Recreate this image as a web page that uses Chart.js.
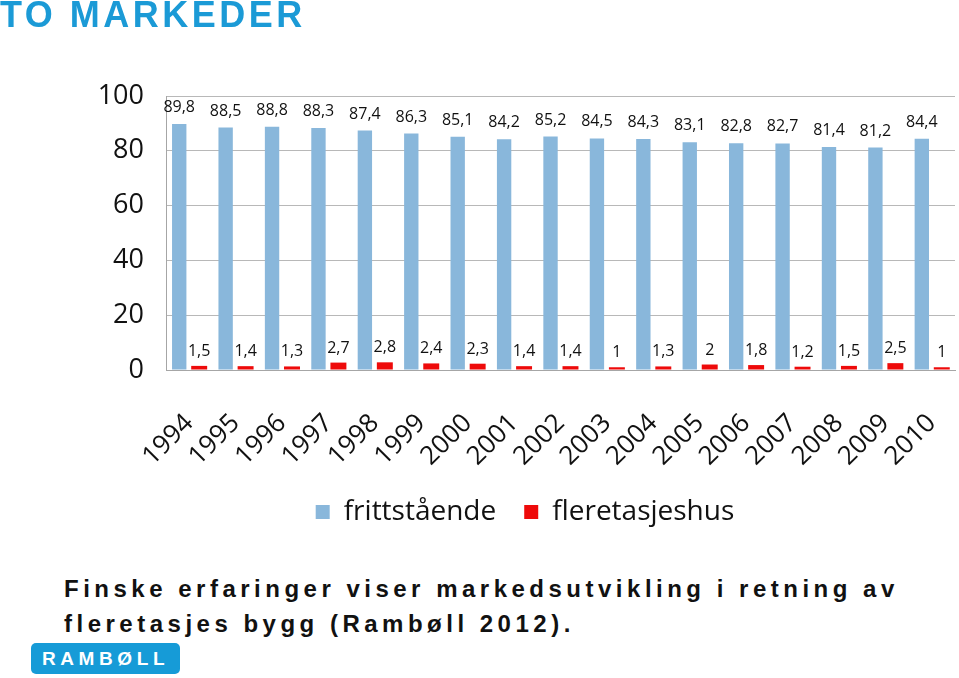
<!DOCTYPE html>
<html>
<head>
<meta charset="utf-8">
<script src="https://cdn.jsdelivr.net/npm/chart.js@4.4.1/dist/chart.umd.min.js"></script>
<style>
  body { margin: 0; background: #fff; width: 959px; height: 678px; overflow: hidden; position: relative; }
  #title { position: absolute; left: 0; top: -3px; font: bold 36px "Liberation Sans", Arial, sans-serif; line-height: 36px; letter-spacing: 3.5px; color: #1b9ad6; z-index: 2; }
  #chartBox { position: absolute; left: 0; top: 0; width: 959px; height: 540px; }
  #caption { position: absolute; left: 64px; top: 571px; font: bold 24px "Liberation Sans", Arial, sans-serif; line-height: 35px; letter-spacing: 4.5px; color: #111; }
  #logo { position: absolute; left: 31px; top: 643px; width: 149px; height: 31px; background: #169bd7; border-radius: 5px; color: #fff; font: bold 19px "Liberation Sans", Arial, sans-serif; letter-spacing: 4.6px; line-height: 31px; text-align: center; }
</style>
</head>
<body>
<div id="title">TO MARKEDER</div>
<div id="chartBox"><canvas id="myChart" width="959" height="540"></canvas></div>
<div id="caption">Finske erfaringer viser markedsutvikling i retning av<br>fleretasjes bygg (Rambøll 2012).</div>
<div id="logo">RAMBØLL</div>
<script>
const years = ["1994", "1995", "1996", "1997", "1998", "1999", "2000", "2001", "2002",
  "2003", "2004", "2005", "2006", "2007", "2008", "2009", "2010"];
const frittstaende = [89.8, 88.5, 88.8, 88.3, 87.4, 86.3, 85.1, 84.2, 85.2,
  84.5, 84.3, 83.1, 82.8, 82.7, 81.4, 81.2, 84.4];
const fleretasjeshus = [1.5, 1.4, 1.3, 2.7, 2.8, 2.4, 2.3, 1.4, 1.4,
  1, 1.3, 2, 1.8, 1.2, 1.5, 2.5, 1];
const yTicks = [0, 20, 40, 60, 80, 100];

const chartFont = "'Open Sans', 'DejaVu Sans', sans-serif";

// writes the value above every bar, with decimal comma
const barLabels = {
  id: "barLabels",
  afterDatasetsDraw(chart) {
    const ctx = chart.ctx;
    ctx.save();
    ctx.font = "16px " + chartFont;
    ctx.fillStyle = "#111";
    ctx.textAlign = "center";
    ctx.textBaseline = "alphabetic";
    chart.data.datasets.forEach((ds, i) => {
      const meta = chart.getDatasetMeta(i);
      meta.data.forEach((bar, j) => {
        const txt = String(ds.data[j]).replace(".", ",");
        ctx.fillText(txt, bar.x, bar.y - (i === 0 ? 12 : 10));
      });
    });
    ctx.restore();
  }
};

const canvasCtx = document.getElementById("myChart").getContext("2d");

const config = {
  type: "bar",
  data: {
    labels: years,
    datasets: [
      {
        label: "frittstående",
        data: frittstaende,
        backgroundColor: "#89b7db",
        categoryPercentage: 0.86,
        barPercentage: 0.72
      },
      {
        label: "fleretasjeshus",
        data: fleretasjeshus,
        backgroundColor: "#ee0a0a",
        categoryPercentage: 0.86,
        barPercentage: 0.8
      }
    ]
  },
  options: {
    responsive: false,
    animation: false,
    layout: { padding: { top: 96, left: 95, right: 4, bottom: 4 } },
    plugins: {
      tooltip: { enabled: false },
      legend: {
        position: "bottom",
        labels: {
          font: { family: chartFont, size: 28 },
          color: "#111",
          boxWidth: 14,
          boxHeight: 14,
          padding: 28
        }
      }
    },
    scales: {
      x: {
        grid: { display: false },
        border: { color: "#a6a6a6" },
        ticks: {
          font: { family: chartFont, size: 26 },
          color: "#111",
          autoSkip: false,
          minRotation: 45,
          maxRotation: 45,
          padding: 30
        },
        afterFit(scale) {
          scale.height = 100;
          scale.paddingLeft = 0;
          scale.paddingRight = 0;
        }
      },
      y: {
        min: 0,
        max: 100,
        afterBuildTicks(scale) { scale.ticks = yTicks.map(v => ({ value: v })); },
        grid: { color: "#b8b8b8", drawTicks: false },
        border: { color: "#a6a6a6" },
        ticks: {
          font: { family: chartFont, size: 27 },
          color: "#111",
          padding: 22
        },
        afterFit(scale) { scale.width = 71; }
      }
    }
  },
  plugins: [barLabels]
};

let myChart = new Chart(canvasCtx, config);
</script>
</body>
</html>
